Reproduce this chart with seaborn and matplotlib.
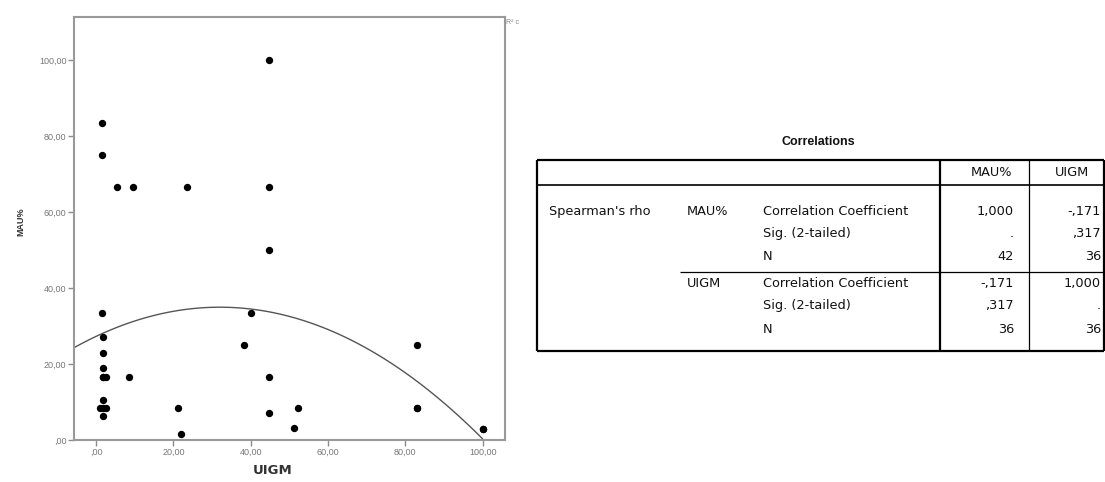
import matplotlib
matplotlib.use("Agg")
import matplotlib.pyplot as plt
import seaborn as sns
import pandas as pd
from matplotlib.lines import Line2D

sns.set_theme(style="white")
plt.rcParams['font.family'] = ['Liberation Sans', 'DejaVu Sans']

# ---- scatter data (some points overlap) ----
uigm = [44.8, 1.5, 1.5, 5.3, 9.6, 23.6, 44.8, 44.8, 1.5, 40.0, 1.9, 1.9, 38.3,
        1.9, 1.9, 2.5, 8.6, 44.8, 1.9, 1.0, 2.6, 1.9, 21.2, 22.0, 44.8,
        83.1, 83.1, 52.2, 51.2, 100.0,
        1.9, 1.9, 100.0, 83.1]
mau = [100.0, 83.3, 75.0, 66.7, 66.7, 66.7, 66.7, 50.0, 33.3, 33.3, 27.2, 22.8, 25.0,
       18.9, 16.7, 16.7, 16.7, 16.7, 10.5, 8.3, 8.3, 6.3, 8.3, 1.5, 7.2,
       25.0, 8.3, 8.3, 3.2, 2.8,
       8.3, 16.7, 2.8, 8.3]
df = pd.DataFrame({"UIGM": uigm, "MAU%": mau})

xticks = [0, 20, 40, 60, 80, 100]
xticklabels = [",00", "20,00", "40,00", "60,00", "80,00", "100,00"]
yticks = [0, 20, 40, 60, 80, 100]
yticklabels = [",00", "20,00", "40,00", "60,00", "80,00", "100,00"]

# ---- correlation table ----
table_title = "Correlations"
col_headers = ["MAU%", "UIGM"]
group_label = "Spearman's rho"
var_labels = ["MAU%", "UIGM"]
stat_labels = ["Correlation Coefficient", "Sig. (2-tailed)", "N"]
mau_col = ["1,000", ".", "42", "-,171", ",317", "36"]
uigm_col = ["-,171", ",317", "36", "1,000", ".", "36"]

W, H = 1105, 482
fig = plt.figure(figsize=(W / 100, H / 100), dpi=100)
fig.patch.set_facecolor("white")

# scatter axes
ax = fig.add_axes([74 / W, 1 - 440 / H, 431 / W, 423 / H])
gray = "#8c8c8c"
xmin, xmax = -5.7, 105.8
ax.set_xlim(xmin, 100)
sns.regplot(data=df, x="UIGM", y="MAU%", order=2, scatter=False, ci=None,
            truncate=False, ax=ax, line_kws=dict(color="#555555", lw=1.0))
sns.scatterplot(data=df, x="UIGM", y="MAU%", ax=ax, color="black", s=28,
                edgecolor="black", linewidth=0, zorder=3)
ax.set_xlim(xmin, xmax)
ax.set_ylim(0, 111.3)
ax.set_xticks(xticks)
ax.set_xticklabels(xticklabels)
ax.set_yticks(yticks)
ax.set_yticklabels(yticklabels)
ax.tick_params(axis="both", which="both", direction="out", length=4, width=1,
               color=gray, labelcolor="#777777", labelsize=6.5, pad=1.5,
               bottom=True, left=True)
for sp in ax.spines.values():
    sp.set_color("#999999")
    sp.set_linewidth(1.5)
ax.set_xlabel("UIGM", fontsize=9.5, fontweight="bold", color="#333333",
              family=["DejaVu Sans"])
ax.xaxis.set_label_coords(0.462, -0.056)
ax.set_ylabel("MAU%", fontsize=6.5, fontweight="bold", color="#333333")
ax.yaxis.set_label_coords(-0.112, 0.515)
fig.text(506 / W, 1 - 22 / H, "R² c", fontsize=5, color="#888888", va="center", ha="left")

# table overlay axes in pixel coords
tax = fig.add_axes([0, 0, 1, 1])
tax.set_xlim(0, W)
tax.set_ylim(H, 0)
tax.axis("off")

def hline(x0, x1, y, lw):
    tax.add_line(Line2D([x0, x1], [y, y], color="black", lw=lw, solid_capstyle="butt"))

def vline(x, y0, y1, lw):
    tax.add_line(Line2D([x, x], [y0, y1], color="black", lw=lw, solid_capstyle="butt"))

L, R, T, B = 537, 1104, 160, 351
hline(L, R, T, 1.6)
hline(L, R, B, 1.6)
vline(L, T, B, 1.6)
vline(R, T, B, 1.6)
hline(L, R, 185, 1.2)
vline(940, T, B, 1.6)
vline(1029, T, B, 0.9)
hline(680, R, 271.5, 0.9)

fs = 9.3
tc = "#111111"
tfam = ["DejaVu Sans"]
tax.text(818, 142, table_title, ha="center", va="center", fontsize=9, fontweight="bold",
         color=tc)
tax.text(992, 173, col_headers[0], ha="center", va="center", fontsize=fs, color=tc, family=tfam)
tax.text(1072, 173, col_headers[1], ha="center", va="center", fontsize=fs, color=tc, family=tfam)

row_y = [211.5, 233.5, 256.5, 283.5, 305.5, 329.5]
tax.text(549, row_y[0], group_label, ha="left", va="center", fontsize=fs, color=tc, family=tfam)
tax.text(687, row_y[0], var_labels[0], ha="left", va="center", fontsize=fs, color=tc, family=tfam)
tax.text(687, row_y[3], var_labels[1], ha="left", va="center", fontsize=fs, color=tc, family=tfam)
for i, y in enumerate(row_y):
    tax.text(763, y, stat_labels[i % 3], ha="left", va="center", fontsize=fs, color=tc, family=tfam)
    tax.text(1014, y, mau_col[i], ha="right", va="center", fontsize=fs, color=tc, family=tfam)
    tax.text(1101, y, uigm_col[i], ha="right", va="center", fontsize=fs, color=tc, family=tfam)

fig.savefig("out.png", dpi=100, facecolor="white")
